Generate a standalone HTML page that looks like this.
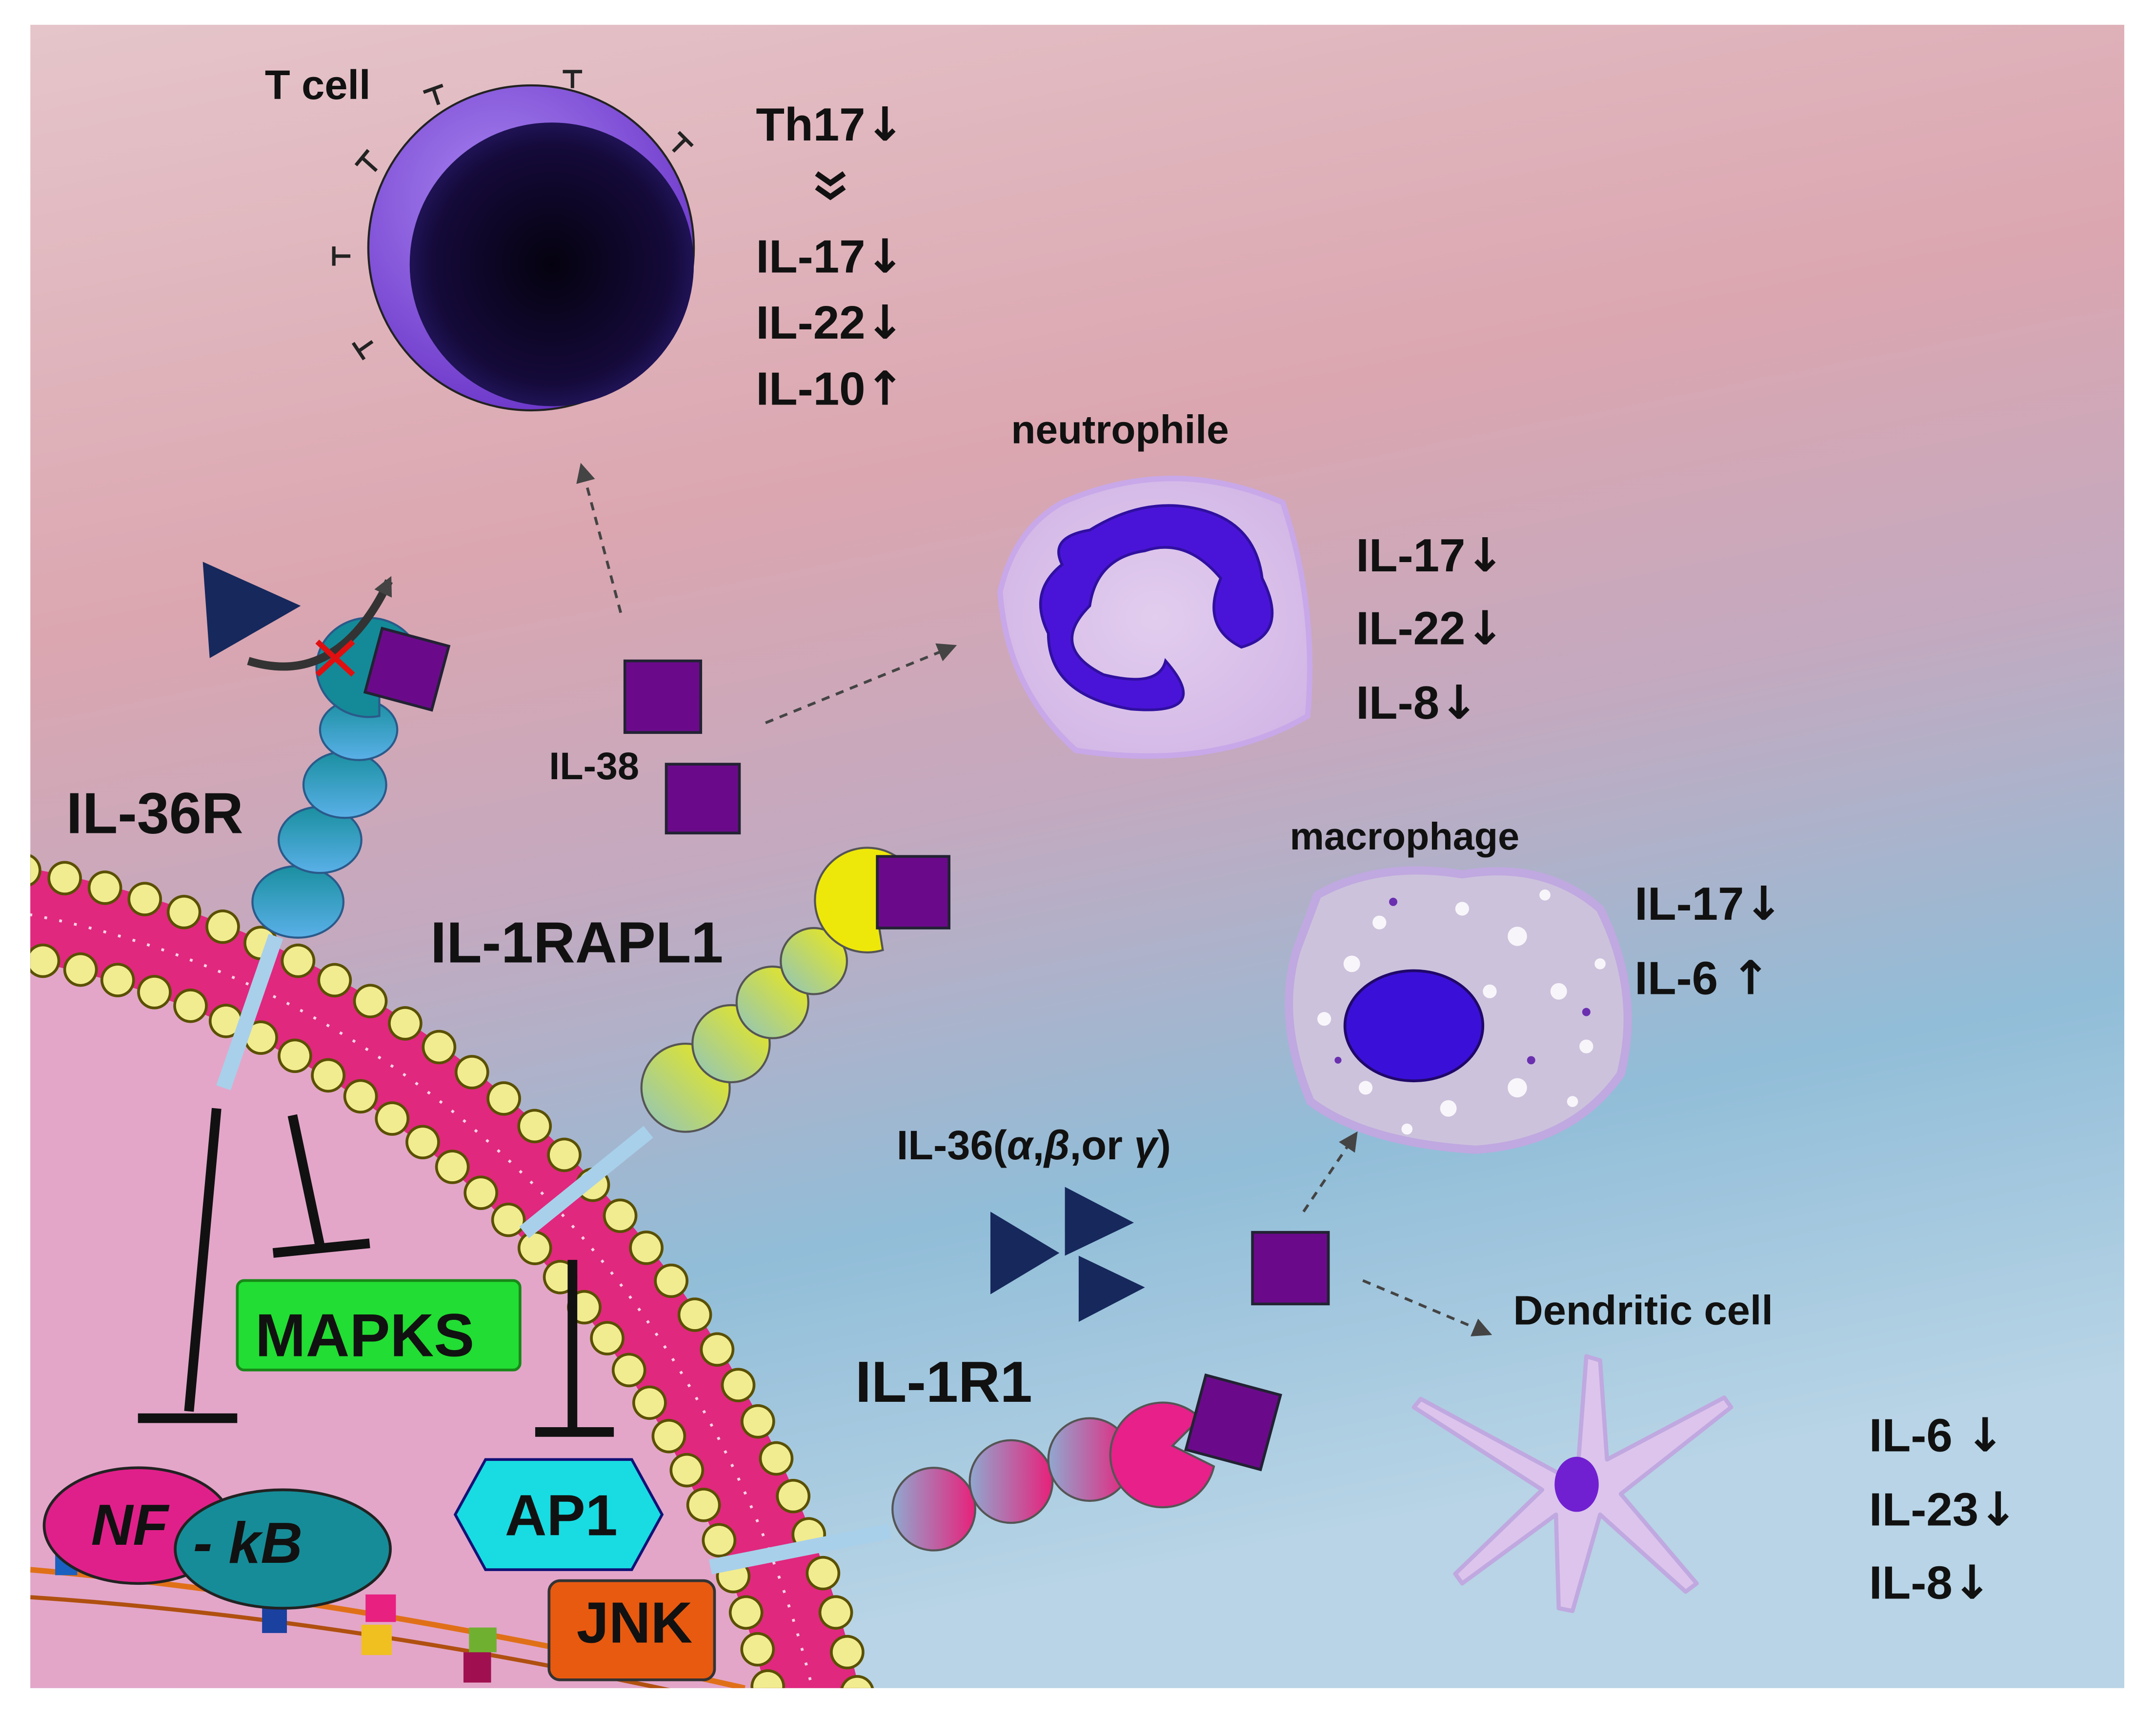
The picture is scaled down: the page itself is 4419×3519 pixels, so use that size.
<!DOCTYPE html>
<html><head><meta charset="utf-8"><style>
html,body{margin:0;padding:0;background:#fff;overflow:hidden;width:4419px;height:3519px;position:relative}
svg{display:block;position:absolute;left:0;top:0;overflow:hidden}
text{font-family:"Liberation Sans",Arial,sans-serif;font-weight:bold;fill:#111}
.ar{font-family:"DejaVu Sans",sans-serif;font-weight:bold}
</style></head><body>
<svg width="4419" height="3519" viewBox="0 0 1563 1247" preserveAspectRatio="none" xmlns="http://www.w3.org/2000/svg">
<defs>
<linearGradient id="bg" x1="0" y1="0" x2="0.25" y2="1">
<stop offset="0" stop-color="#e5c5ca"/><stop offset="0.35" stop-color="#dba6b0"/>
<stop offset="0.55" stop-color="#c4a9bf"/><stop offset="0.78" stop-color="#91bdd8"/><stop offset="1" stop-color="#b8d4e6"/></linearGradient>
<radialGradient id="tc" cx="0.4" cy="0.35" r="0.7"><stop offset="0" stop-color="#a884f0"/><stop offset="1" stop-color="#6a34c8"/></radialGradient>
<radialGradient id="tn" cx="0.5" cy="0.5" r="0.6"><stop offset="0" stop-color="#05020f"/><stop offset="0.7" stop-color="#150a3a"/><stop offset="1" stop-color="#2c1e78"/></radialGradient>
<radialGradient id="neu" cx="0.5" cy="0.5" r="0.6"><stop offset="0" stop-color="#e2cdee"/><stop offset="1" stop-color="#d2b6e6"/></radialGradient>
<linearGradient id="b1" x1="0" y1="0" x2="0" y2="1"><stop offset="0" stop-color="#1a8fa0"/><stop offset="1" stop-color="#5ab0e8"/></linearGradient>
<linearGradient id="b2" x1="1" y1="0" x2="0" y2="1"><stop offset="0" stop-color="#f0ea10"/><stop offset="1" stop-color="#8ec4c0"/></linearGradient>
<linearGradient id="b3" x1="1" y1="0" x2="0" y2="0"><stop offset="0" stop-color="#e8207a"/><stop offset="1" stop-color="#90a8d0"/></linearGradient>
<clipPath id="cp"><rect x="22" y="18" width="1518" height="1208"/></clipPath>
<marker id="ar" markerUnits="userSpaceOnUse" markerWidth="14" markerHeight="14" refX="10" refY="7" orient="auto"><path d="M0,0 L14,7 L0,14 z" fill="#444"/></marker>
</defs>
<rect x="22" y="18" width="1518" height="1208" fill="url(#bg)"/>
<g clip-path="url(#cp)">
<ellipse cx="-100" cy="1420" rx="680" ry="735" fill="#e3a6c9"/>
<ellipse cx="-100" cy="1420" rx="712" ry="767" fill="none" stroke="#e0287e" stroke-width="66"/>
<ellipse cx="-100" cy="1420" rx="712" ry="767" fill="none" stroke="#fff" stroke-width="2" stroke-dasharray="2 9" opacity="0.8"/>
<ellipse cx="-100" cy="1420" rx="743" ry="798" fill="none" stroke="#5a5000" stroke-width="25" stroke-dasharray="0 30" stroke-linecap="round"/>
<ellipse cx="-100" cy="1420" rx="743" ry="798" fill="none" stroke="#f2ec90" stroke-width="21" stroke-dasharray="0 30" stroke-linecap="round"/>
<ellipse cx="-100" cy="1420" rx="681" ry="736" fill="none" stroke="#5a5000" stroke-width="25" stroke-dasharray="0 28" stroke-linecap="round"/>
<ellipse cx="-100" cy="1420" rx="681" ry="736" fill="none" stroke="#f2ec90" stroke-width="21" stroke-dasharray="0 28" stroke-linecap="round"/>
<path d="M22,1140 Q250,1160 540,1226" stroke="#e07018" stroke-width="4" fill="none"/>
<path d="M22,1160 Q250,1175 520,1235" stroke="#b05010" stroke-width="3" fill="none"/>
<rect x="40" y="1122" width="16" height="22" fill="#1a60c0"/>
<rect x="190" y="1160" width="18" height="26" fill="#1a40a0"/>
<rect x="265" y="1158" width="22" height="20" fill="#e82080"/><rect x="262" y="1180" width="22" height="22" fill="#f0c020"/>
<rect x="340" y="1182" width="20" height="18" fill="#70b030"/><rect x="336" y="1200" width="20" height="22" fill="#a01050"/>
</g>
<g stroke="#111" stroke-width="7">
<line x1="157" y1="805" x2="137" y2="1025"/><line x1="100" y1="1030" x2="172" y2="1030"/>
<line x1="212" y1="810" x2="232" y2="905"/><line x1="198" y1="910" x2="268" y2="903"/>
<line x1="415" y1="915" x2="415" y2="1038"/><line x1="388" y1="1040" x2="445" y2="1040"/>
</g>
<rect x="172" y="930" width="205" height="65" rx="5" fill="#22dd33" stroke="#188818" stroke-width="2"/>
<text x="185" y="985" font-size="44">MAPKS</text>
<ellipse cx="100" cy="1108" rx="68" ry="42" fill="#e0208a" stroke="#222" stroke-width="2"/>
<ellipse cx="205" cy="1125" rx="78" ry="43" fill="#168c98" stroke="#222" stroke-width="2"/>
<text x="66" y="1122" font-size="42" font-style="italic">NF</text>
<text x="140" y="1135" font-size="42" font-style="italic">- kB</text>
<polygon points="352,1060 458,1060 480,1100 458,1140 352,1140 330,1100" fill="#18dce2" stroke="#117" stroke-width="2"/>
<text x="366" y="1115" font-size="42">AP1</text>
<rect x="398" y="1148" width="120" height="72" rx="8" fill="#e85a10" stroke="#333" stroke-width="2"/>
<text x="418" y="1193" font-size="42">JNK</text>
<line x1="200" y1="680" x2="162" y2="790" stroke="#a8d0ea" stroke-width="11"/>
<g stroke="#2a5a8a" stroke-width="1.5" fill="url(#b1)">
<ellipse cx="216" cy="655" rx="33" ry="26"/><ellipse cx="232" cy="610" rx="30" ry="24"/>
<ellipse cx="250" cy="570" rx="30" ry="24"/><ellipse cx="260" cy="530" rx="28" ry="22"/>
<path d="M275,520 A38,36 0 1 1 305,490 L275,500 z" fill="#148a98"/>
</g>
<rect x="270" y="462" width="50" height="48" fill="#6a0a8a" stroke="#223" stroke-width="2" transform="rotate(15 295 486)"/>
<polygon points="147,408 218,440 152,478" fill="#16285c"/>
<path d="M180,480 Q245,500 282,422" stroke="#333" stroke-width="6" fill="none" marker-end="url(#ar)"/>
<path d="M230,466 L256,490 M256,466 L230,490" stroke="#e01010" stroke-width="4"/>
<line x1="470" y1="822" x2="380" y2="895" stroke="#a8d0ea" stroke-width="11"/>
<g stroke="#555" stroke-width="1.5" fill="url(#b2)">
<circle cx="497" cy="790" r="32"/><circle cx="530" cy="758" r="28"/><circle cx="560" cy="728" r="26"/><circle cx="590" cy="698" r="24"/>
<path d="M640,690 A38,38 0 1 1 664,668 L636,665 z" fill="#eee80a"/>
</g>
<rect x="636" y="622" width="52" height="52" fill="#6a0a8a" stroke="#223" stroke-width="2"/>
<line x1="645" y1="1112" x2="515" y2="1138" stroke="#a8d0ea" stroke-width="11"/>
<g stroke="#555" stroke-width="1.5" fill="url(#b3)">
<circle cx="677" cy="1096" r="30"/><circle cx="733" cy="1076" r="30"/><circle cx="790" cy="1060" r="30"/>
<path d="M880,1065 A38,38 0 1 1 870,1030 L850,1050 z" fill="#e8208a"/>
</g>
<rect x="866" y="1005" width="56" height="56" fill="#6a0a8a" stroke="#223" stroke-width="2" transform="rotate(15 894 1033)"/>
<rect x="453" y="480" width="55" height="52" fill="#6a0a8a" stroke="#223" stroke-width="2"/>
<rect x="483" y="555" width="53" height="50" fill="#6a0a8a" stroke="#223" stroke-width="2"/>
<rect x="908" y="895" width="55" height="52" fill="#6a0a8a" stroke="#223" stroke-width="2"/>
<polygon points="718,880 768,910 718,940" fill="#16285c"/>
<polygon points="772,862 822,888 772,912" fill="#16285c"/>
<polygon points="782,912 830,935 782,960" fill="#16285c"/>
<g stroke="#444" stroke-width="2" stroke-dasharray="6 5" fill="none" marker-end="url(#ar)">
<line x1="450" y1="445" x2="422" y2="340"/><line x1="555" y1="525" x2="690" y2="470"/>
<line x1="945" y1="880" x2="982" y2="825"/><line x1="988" y1="930" x2="1078" y2="968"/>
</g>
<g stroke="#222" stroke-width="2.5" fill="none">
<path d="M254,186 h-12 M242,179 v14"/><path d="M273,124 l-10,-9 M258,120 l9,-11"/>
<path d="M318,76 l-4,-12 M307,67 l14,-5"/><path d="M415,64 v-12 M408,52 h14"/>
<path d="M488,110 l9,-9 M492,96 l10,10"/><path d="M270,248 l-10,7 M256,249 l8,12"/>
</g>
<circle cx="385" cy="180" r="118" fill="url(#tc)" stroke="#222" stroke-width="1.5"/>
<circle cx="400" cy="192" r="103" fill="url(#tn)"/>
<text x="192" y="72" font-size="30">T cell</text>
<g font-size="34">
<text x="548" y="102">Th17<tspan class="ar">↓</tspan></text>
<path d="M592,126 l10,7 l10,-7 M592,136 l10,7 l10,-7" stroke="#111" stroke-width="4" fill="none"/>
<text x="548" y="198">IL-17<tspan class="ar">↓</tspan></text><text x="548" y="246">IL-22<tspan class="ar">↓</tspan></text><text x="548" y="294">IL-10<tspan class="ar">↑</tspan></text>
</g>
<text x="733" y="322" font-size="29">neutrophile</text>
<path d="M770,365 Q850,330 930,365 Q955,440 948,520 Q880,560 780,545 Q730,500 725,430 Q735,385 770,365 z" fill="url(#neu)" stroke="#c8a8e8" stroke-width="4"/>
<path d="M790,385 Q830,360 870,370 Q910,380 915,420 Q935,460 900,470 Q870,455 885,420 Q860,390 830,400 Q795,405 790,440 Q760,470 800,490 Q840,500 845,480 Q880,520 820,515 Q760,505 760,460 Q745,430 770,410 Q760,390 790,385 z" fill="#4a14d8" stroke="#3010a0" stroke-width="2"/>
<g font-size="34"><text x="983" y="415">IL-17<tspan class="ar">↓</tspan></text><text x="983" y="468">IL-22<tspan class="ar">↓</tspan></text><text x="983" y="522">IL-8<tspan class="ar">↓</tspan></text></g>
<text x="935" y="617" font-size="28">macrophage</text>
<path d="M955,650 Q1000,625 1060,635 Q1120,625 1160,660 Q1190,720 1175,780 Q1140,830 1070,835 Q990,830 950,800 Q925,740 940,690 z" fill="#ccc2dc" stroke="#c0a8e0" stroke-width="6"/>
<g fill="#fff" opacity="0.85">
<circle cx="980" cy="700" r="6"/><circle cx="1000" cy="670" r="5"/><circle cx="1100" cy="680" r="7"/><circle cx="1130" cy="720" r="6"/>
<circle cx="1150" cy="760" r="5"/><circle cx="1100" cy="790" r="7"/><circle cx="1050" cy="805" r="6"/><circle cx="990" cy="790" r="5"/>
<circle cx="960" cy="740" r="5"/><circle cx="1080" cy="720" r="5"/><circle cx="1120" cy="650" r="4"/><circle cx="1060" cy="660" r="5"/>
<circle cx="1140" cy="800" r="4"/><circle cx="1160" cy="700" r="4"/><circle cx="1020" cy="820" r="4"/>
</g>
<g fill="#6a30b0"><circle cx="1010" cy="655" r="3"/><circle cx="1150" cy="735" r="3"/><circle cx="1110" cy="770" r="3"/><circle cx="970" cy="770" r="2.5"/></g>
<ellipse cx="1025" cy="745" rx="50" ry="40" fill="#3a10d8" stroke="#20086a" stroke-width="2"/>
<g font-size="34"><text x="1185" y="668">IL-17<tspan class="ar">↓</tspan></text><text x="1185" y="722">IL-6 <tspan class="ar">↑</tspan></text></g>
<text x="1097" y="962" font-size="30">Dendritic cell</text>
<path d="M1143,1078 L1150,985 L1160,988 L1165,1060 L1250,1015 L1255,1022 L1175,1085 L1230,1150 L1222,1156 L1160,1100 L1140,1170 L1130,1168 L1128,1100 L1060,1150 L1055,1143 L1118,1082 L1025,1022 L1030,1016 L1130,1070 z" fill="#dcc4ec" stroke="#c0a8e0" stroke-width="3" stroke-linejoin="round"/>
<ellipse cx="1143" cy="1078" rx="16" ry="20" fill="#7020d0"/>
<g font-size="34"><text x="1355" y="1054">IL-6 <tspan class="ar">↓</tspan></text><text x="1355" y="1108">IL-23<tspan class="ar">↓</tspan></text><text x="1355" y="1161">IL-8<tspan class="ar">↓</tspan></text></g>
<text x="48" y="605" font-size="42">IL-36R</text>
<text x="312" y="699" font-size="42">IL-1RAPL1</text>
<text x="620" y="1018" font-size="42">IL-1R1</text>
<text x="398" y="566" font-size="28">IL-38</text>
<text x="650" y="842" font-size="30">IL-36(<tspan font-style="italic">α</tspan>,<tspan font-style="italic">β</tspan>,or <tspan font-style="italic">γ</tspan>)</text>
</svg>
</body></html>
